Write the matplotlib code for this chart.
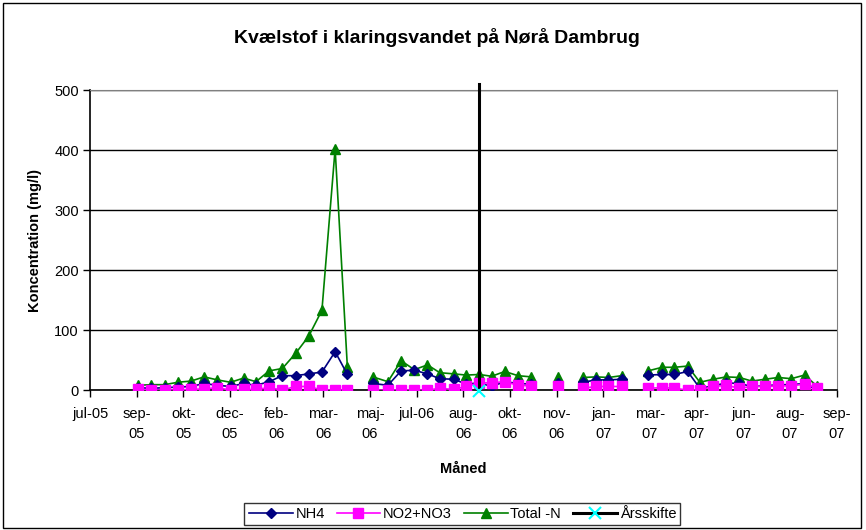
import numpy as np
import matplotlib
matplotlib.use("Agg")
import matplotlib.pyplot as plt
import matplotlib.dates as mdates
from matplotlib.lines import Line2D
from matplotlib.patches import Rectangle

plt.rcParams['font.family'] = ['Liberation Sans', 'DejaVu Sans']

# sample dates (blank rows = no measurement -> gap in lines)
dates = ["2005-09-09", "2005-09-23", "2005-10-07", "2005-10-21", "2005-11-04",
         "2005-11-18", "2005-12-02", "2005-12-16", "2005-12-30", "2006-01-12",
         "2006-01-26", "2006-02-09", "2006-02-23", "2006-03-09", "2006-03-23",
         "2006-04-06", "2006-04-19", "2006-05-03", "2006-05-16", "2006-06-01",
         "2006-06-15", "2006-06-29", "2006-07-13", "2006-07-26", "2006-08-10",
         "2006-08-23", "2006-09-06", "2006-09-19", "2006-10-03", "2006-10-17",
         "2006-10-31", "2006-11-14", "2006-11-28", "2006-12-12", "2006-12-25",
         "2007-01-08", "2007-01-21", "2007-02-04", "2007-02-18", "2007-03-04",
         "2007-03-19", "2007-04-01", "2007-04-15", "2007-04-28", "2007-05-12",
         "2007-05-26", "2007-06-09", "2007-06-22", "2007-07-06", "2007-07-20",
         "2007-08-03", "2007-08-17", "2007-08-30"]
nh4 = [4, 3, 4, 5, 6, 11, 8, 6, 11, 8,
       14, 24, 24, 27, 30, 64, 26, None, 11, 8,
       32, 33, 27, 19, 18, 10, 12, 6, 14, 11,
       10, None, 12, None, 13, 17, 17, 18, None, 25,
       26, 26, 31, 3, 7, 12, 11, 6, 7, 9,
       9, 11, 0]
no2no3 = [1, 0, 0, 0, 1, 2, 4, 0, 1, 1,
          4, 0, 6, 6, 0, 0, 0, None, 0, 0,
          0, 0, 0, 3, 1, 6, 12, 12, 14, 8,
          7, None, 7, None, 3, 6, 6, 6, None, 3,
          4, 3, 0, 0, 6, 8, 3, 6, 6, 7,
          7, 10, 4]
total_n = [8, 9, 9, 13, 15, 22, 17, 13, 20, 14,
           32, 36, 61, 90, 133, 402, 38, None, 22, 14,
           49, 34, 42, 29, 27, 25, 26, 23, 31, 24,
           22, None, 21, None, 21, 22, 21, 24, None, 32,
           38, 38, 40, 13, 18, 22, 21, 15, 18, 21,
           19, 25, 7]
year_change = "2006-09-06"
year_change_y = [0, 510]

tick_start = "2005-07-20"
tick_step = 49.5  # days, excel date axis major unit
tick_labels = ["jul-05", "sep-\n05", "okt-\n05", "dec-\n05", "feb-\n06", "mar-\n06",
               "maj-\n06", "jul-06", "aug-\n06", "okt-\n06", "nov-\n06", "jan-\n07",
               "mar-\n07", "apr-\n07", "jun-\n07", "aug-\n07", "sep-\n07"]

x = mdates.datestr2num(dates)
nh4 = np.array(nh4, dtype=float)
no2no3 = np.array(no2no3, dtype=float)
total_n = np.array(total_n, dtype=float)

fig = plt.figure(figsize=(8.66, 5.30), dpi=100)
ax = fig.add_axes([0.104, 0.264, 0.862, 0.566])

ax.plot(x, nh4, color="#000080", lw=1.2, marker="D", ms=5.5, label="NH4", zorder=3)
ax.plot(x, no2no3, color="#FF00FF", lw=1.2, marker="s", ms=6.5, label="NO2+NO3", zorder=4)
ax.plot(x, total_n, color="#008000", lw=1.2, marker="^", ms=7.5, label="Total -N", zorder=2)
xc = mdates.datestr2num(year_change)
ax.plot([xc, xc], year_change_y, color="black", lw=2.2, clip_on=False, zorder=5)
ax.plot([xc], [-2], ls="none", marker="x", color="#00FFFF", ms=9, mew=1.5, zorder=6, clip_on=False)

ticks = mdates.datestr2num(tick_start) + tick_step * np.arange(len(tick_labels))
ax.set_xlim(ticks[0], ticks[-1])
ax.set_xticks(ticks)
ax.set_xticklabels(tick_labels, fontsize=10.5, linespacing=1.6, va="top")
ax.set_ylim(0, 500)
ax.set_yticks(np.arange(0, 501, 100))
ax.tick_params(axis="y", labelsize=10.5, length=5, width=1, direction="out", pad=3)
ax.tick_params(axis="x", length=5, width=1, direction="out", pad=7)
ax.yaxis.grid(True, color="black", lw=1)
ax.set_axisbelow(True)
for s in ["top", "right"]:
    ax.spines[s].set_color("#808080")
ax.spines["left"].set_linewidth(1.2)
ax.spines["bottom"].set_linewidth(1.2)

ax.set_xlabel("Måned", fontsize=10.5, fontweight="bold", labelpad=15)
ax.set_ylabel("Koncentration (mg/l)", fontsize=10.5, fontweight="bold", labelpad=9)
fig.text(0.505, 0.93, "Kvælstof i klaringsvandet på Nørå Dambrug", ha="center", va="center",
         fontsize=14, fontweight="bold")

handles = [Line2D([], [], color="#000080", lw=1.2, marker="D", ms=5.5),
           Line2D([], [], color="#FF00FF", lw=1.2, marker="s", ms=6.5),
           Line2D([], [], color="#008000", lw=1.2, marker="^", ms=7.5),
           Line2D([], [], color="black", lw=2.2, marker="x", mec="#00FFFF", ms=9, mew=1.5)]
leg = fig.legend(handles, ["NH4", "NO2+NO3", "Total -N", "Årsskifte"], loc="center",
                 bbox_to_anchor=(0.534, 0.030), ncol=4, fontsize=10.5, frameon=True,
                 fancybox=False, edgecolor="black", handlelength=3, handletextpad=0.2,
                 columnspacing=0.8, borderpad=0.3)
leg.get_frame().set_linewidth(1)

fig.patches.append(Rectangle((0.004, 0.004), 0.99, 0.99, transform=fig.transFigure,
                             fill=False, edgecolor="black", lw=1))

fig.savefig("out.png", dpi=100)
